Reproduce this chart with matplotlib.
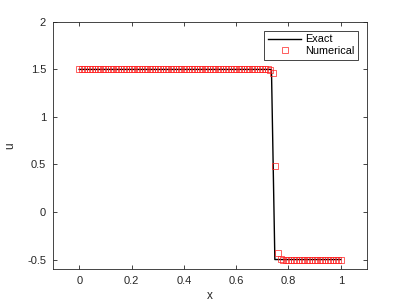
import numpy as np
import matplotlib
matplotlib.use("Agg")
import matplotlib.pyplot as plt

plt.rcParams['font.family'] = ['Liberation Sans', 'DejaVu Sans']

# numerical solution on 101 grid points, x = 0 .. 1
x_num = np.linspace(0, 1, 101)
u_num = [1.5, 1.5, 1.5, 1.5, 1.5, 1.5, 1.5, 1.5, 1.5, 1.5,
         1.5, 1.5, 1.5, 1.5, 1.5, 1.5, 1.5, 1.5, 1.5, 1.5,
         1.5, 1.5, 1.5, 1.5, 1.5, 1.5, 1.5, 1.5, 1.5, 1.5,
         1.5, 1.5, 1.5, 1.5, 1.5, 1.5, 1.5, 1.5, 1.5, 1.5,
         1.5, 1.5, 1.5, 1.5, 1.5, 1.5, 1.5, 1.5, 1.5, 1.5,
         1.5, 1.5, 1.5, 1.5, 1.5, 1.5, 1.5, 1.5, 1.5, 1.5,
         1.5, 1.5, 1.5, 1.5, 1.5, 1.5, 1.5, 1.5, 1.5, 1.5,
         1.5, 1.5, 1.5, 1.49, 1.46, 0.48, -0.43, -0.49, -0.5, -0.5,
         -0.5, -0.5, -0.5, -0.5, -0.5, -0.5, -0.5, -0.5, -0.5, -0.5,
         -0.5, -0.5, -0.5, -0.5, -0.5, -0.5, -0.5, -0.5, -0.5, -0.5,
         -0.5]

# exact solution (shock near x = 0.74)
x_exact = [0.0, 0.735, 0.748, 1.0]
u_exact = [1.5, 1.5, -0.5, -0.5]

xticks = [0, 0.2, 0.4, 0.6, 0.8, 1]
xticklabels = ['0', '0.2', '0.4', '0.6', '0.8', '1']
yticks = [-0.5, 0, 0.5, 1, 1.5, 2]
yticklabels = ['-0.5', '0', '0.5', '1', '1.5', '2']

fig = plt.figure(figsize=(4.05, 3.04), dpi=100)
ax = fig.add_axes([0.131, 0.115, 0.775, 0.813])

ax.plot(x_exact, u_exact, color='black', lw=1.0, label='Exact')
ax.plot(x_num, u_num, ls='none', marker='s', ms=4.8, mfc='none',
        mec='#ff2020', mew=0.5, label='Numerical')

ax.set_xlim(-0.1, 1.1)
ax.set_ylim(-0.6, 2)
ax.set_xticks(xticks)
ax.set_xticklabels(xticklabels)
ax.set_yticks(yticks)
ax.set_yticklabels(yticklabels)

axis_col = '#262626'
for s in ax.spines.values():
    s.set_color(axis_col)
    s.set_linewidth(0.6)
ax.tick_params(direction='in', top=True, right=True, length=3, width=0.6,
               color=axis_col, labelcolor=axis_col, labelsize=8, pad=5)

ax.set_xlabel('x', fontsize=8.5, color=axis_col, labelpad=3)
ax.set_ylabel('u', fontsize=8.5, color=axis_col, labelpad=8)

leg = ax.legend(loc='upper right', fontsize=7.8, fancybox=False,
                framealpha=1, edgecolor=axis_col, handlelength=3.0,
                borderaxespad=0.8, handletextpad=0.4, borderpad=0.35,
                labelspacing=0.15)
leg.get_frame().set_linewidth(0.6)

fig.savefig('out.png', dpi=100)
